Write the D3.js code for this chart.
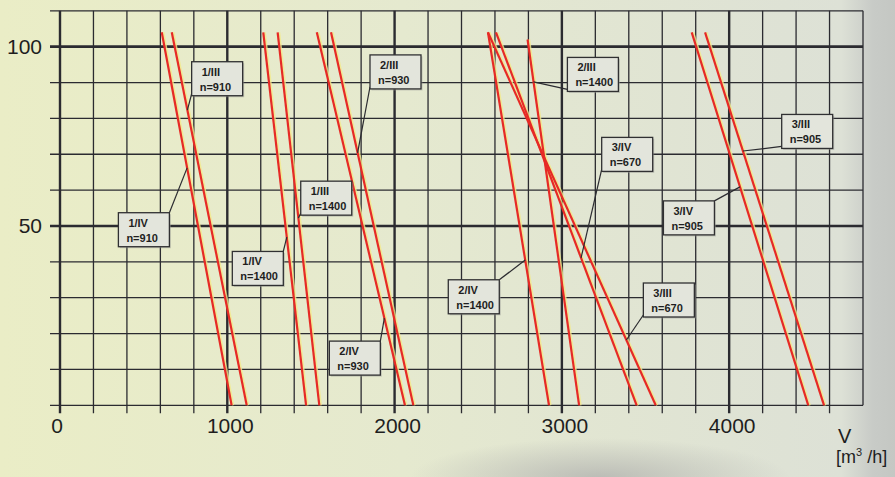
<!DOCTYPE html>
<html>
<head>
<meta charset="utf-8">
<script src="https://cdn.jsdelivr.net/npm/d3@7"></script>
<style>
  body { margin: 0; background: #e6e9cf; }
  svg text { font-family: "Liberation Sans", Arial, sans-serif; fill: #1e1e1e; }
</style>
</head>
<body>
<div id="chart"></div>
<script>
// chart size
var width = 895, height = 477;

// axis ticks
var xTicks = [0, 1000, 2000, 3000, 4000];
var yTicks = [50, 100];

// fan curves: [V at top, value at top, V at bottom, value at bottom]
var curveNames = ["1/IV n=910", "1/III n=910", "1/IV n=1400", "1/III n=1400",
                  "2/IV n=930", "2/III n=930", "2/IV n=1400", "2/III n=1400",
                  "3/IV n=670", "3/III n=670", "3/IV n=905", "3/III n=905"];
var curveTopV    = [608, 668, 1215, 1301, 1535, 1620, 2558, 2795, 2606, 2558, 3776, 3856];
var curveTopVal  = [104, 104, 104, 104, 104, 104, 104, 102, 104, 104, 104, 104];
var curveEndV    = [1026, 1116, 1471, 1550, 2062, 2112, 2923, 3103, 3447, 3561, 4473, 4567];
var curveEndVal  = [0, 0, 0, 0, 0, 0, 0, 0, 0, 0, 0, 0];

// labels: text lines and the value on the curve where the leader touches it
var labelTop    = ["1/III", "1/IV", "2/III", "1/III", "1/IV", "2/IV", "2/III", "3/IV", "3/III", "3/IV", "2/IV", "3/III"];
var labelBottom = ["n=910", "n=910", "n=930", "n=1400", "n=1400", "n=930", "n=1400", "n=670", "n=905", "n=905", "n=1400", "n=670"];
var labelHitVal = [82.3, 66.2, 70.4, 52.2, 46.9, 24.3, 90.2, 41.1, 70.9, 60.9, 40.5, 18.2];

// box placement (data units of the top-left corner) and leader corner
var boxV   = [787, 349, 1853, 1439, 1030, 1610, 3033, 3238, 4314, 3607, 2321, 3487];
var boxVal = [95.8, 53.7, 97.7, 62.5, 42.9, 17.9, 97.0, 74.7, 81.1, 57.0, 35.0, 34.1];
var boxCorner = ["bl", "tr", "bl", "bl", "tr", "tr", "bl", "bl", "bl", "tr", "tr", "bl"];

var svg = d3.select("#chart")
  .append("svg")
    .attr("width", width)
    .attr("height", height);

// scanned paper look
var defs = svg.append("defs");
var bg = defs.append("linearGradient").attr("id", "bg").attr("x1", 0).attr("x2", 1).attr("y1", 0).attr("y2", 0);
bg.append("stop").attr("offset", "0%").attr("stop-color", "#eaedc6");
bg.append("stop").attr("offset", "45%").attr("stop-color", "#e5e9cf");
bg.append("stop").attr("offset", "94%").attr("stop-color", "#dde1d6");
bg.append("stop").attr("offset", "97.5%").attr("stop-color", "#c8cbc7");
bg.append("stop").attr("offset", "100%").attr("stop-color", "#c4c7c3");
var shade = defs.append("radialGradient").attr("id", "shade");
shade.append("stop").attr("offset", "0%").attr("stop-color", "#b4b5b1").attr("stop-opacity", 0.85);
shade.append("stop").attr("offset", "100%").attr("stop-color", "#b4b5b1").attr("stop-opacity", 0);

svg.append("rect").attr("width", width).attr("height", height).attr("fill", "url(#bg)");
svg.append("ellipse")
  .attr("cx", 600).attr("cy", 478).attr("rx", 190).attr("ry", 40)
  .attr("fill", "url(#shade)");

var x = d3.scaleLinear().domain([0, 4800]).range([60, 863]);
var y = d3.scaleLinear().domain([0, 110]).range([405.3, 10.8]);

var grid = svg.append("g");

// horizontal grid lines (every 10), extending a little left of 0
grid.selectAll("line.h")
  .data(d3.range(0, 111, 10))
  .enter()
  .append("line")
    .attr("x1", x(0) - 10)
    .attr("x2", x(4800))
    .attr("y1", function(d) { return y(d); })
    .attr("y2", function(d) { return y(d); })
    .attr("stroke", "#2b2b30")
    .attr("stroke-width", function(d) { return d % 50 == 0 && d > 0 ? 2.6 : 1.3; });

// vertical grid lines (every 200), extending a little below 0
grid.selectAll("line.v")
  .data(d3.range(0, 4801, 200))
  .enter()
  .append("line")
    .attr("x1", function(d) { return x(d); })
    .attr("x2", function(d) { return x(d); })
    .attr("y1", y(110))
    .attr("y2", function(d) { return d == 4800 ? y(0) : y(0) + 8; })
    .attr("stroke", "#2b2b30")
    .attr("stroke-width", function(d) { return d % 1000 == 0 ? 2.4 : 1.3; });

// tick labels
svg.selectAll("text.ylab")
  .data(yTicks)
  .enter()
  .append("text")
    .attr("x", 42)
    .attr("y", function(d) { return y(d) + 7; })
    .attr("text-anchor", "end")
    .style("font-size", "21px")
    .text(function(d) { return d; });

svg.selectAll("text.xlab")
  .data(xTicks)
  .enter()
  .append("text")
    .attr("x", function(d) { return x(d) + (d == 0 ? -3 : 3); })
    .attr("y", 433)
    .attr("text-anchor", "middle")
    .style("font-size", "21px")
    .text(function(d) { return d; });

// axis unit
svg.append("text")
  .attr("x", 838)
  .attr("y", 443)
  .style("font-size", "20px")
  .text("V");
var unit = svg.append("text")
  .attr("x", 836)
  .attr("y", 463)
  .style("font-size", "18px");
unit.append("tspan").text("[m");
unit.append("tspan").attr("dy", -7).style("font-size", "11px").text("3");
unit.append("tspan").attr("dy", 7).text(" /h]");

// curves
var curves = curveNames.map(function(n, i) {
  return { name: n, v0: curveTopV[i], p0: curveTopVal[i], v1: curveEndV[i], p1: curveEndVal[i] };
});

svg.append("g").selectAll("line")
  .data(curves)
  .enter()
  .append("line")
    .attr("x1", function(d) { return x(d.v0) + 1.5; })
    .attr("y1", function(d) { return y(d.p0); })
    .attr("x2", function(d) { return x(d.v1) + 1.5; })
    .attr("y2", function(d) { return y(d.p1); })
    .attr("stroke", "#f3ea8a")
    .attr("stroke-width", 2.2)
    .attr("opacity", 0.8);

svg.append("g").selectAll("line")
  .data(curves)
  .enter()
  .append("line")
    .attr("x1", function(d) { return x(d.v0); })
    .attr("y1", function(d) { return y(d.p0); })
    .attr("x2", function(d) { return x(d.v1); })
    .attr("y2", function(d) { return y(d.p1); })
    .attr("stroke", "#e62a26")
    .attr("stroke-width", 2.2);

// labels with leaders
var boxW = 51, boxH = 34;
var labels = labelTop.map(function(t, i) {
  var name = t + " " + labelBottom[i];
  var c = curves.filter(function(d) { return d.name == name; })[0];
  var f = (c.p0 - labelHitVal[i]) / (c.p0 - c.p1);
  var bx = x(boxV[i]), by = y(boxVal[i]);
  return {
    top: t, bottom: labelBottom[i],
    bx: bx, by: by,
    hx: x(c.v0 + f * (c.v1 - c.v0)), hy: y(labelHitVal[i]),
    ax: boxCorner[i] == "tr" ? bx + boxW : bx,
    ay: boxCorner[i] == "tr" ? by : by + boxH - 2
  };
});

var lab = svg.append("g").selectAll("g")
  .data(labels)
  .enter()
  .append("g");

lab.append("line")
  .attr("x1", function(d) { return d.ax; })
  .attr("y1", function(d) { return d.ay; })
  .attr("x2", function(d) { return d.hx; })
  .attr("y2", function(d) { return d.hy; })
  .attr("stroke", "#2b2b30")
  .attr("stroke-width", 1.2);

lab.append("rect")
  .attr("x", function(d) { return d.bx + 1.5; })
  .attr("y", function(d) { return d.by + 1.5; })
  .attr("width", boxW)
  .attr("height", boxH)
  .attr("fill", "#9a9c96")
  .attr("opacity", 0.5);

lab.append("rect")
  .attr("x", function(d) { return d.bx; })
  .attr("y", function(d) { return d.by; })
  .attr("width", boxW)
  .attr("height", boxH)
  .attr("fill", "#e3e5dc")
  .attr("stroke", "#303032")
  .attr("stroke-width", 1.3);

lab.append("text")
  .attr("x", function(d) { return d.bx + 10; })
  .attr("y", function(d) { return d.by + 14; })
  .style("font-size", "11px")
  .style("font-weight", "bold")
  .text(function(d) { return d.top; });

lab.append("text")
  .attr("x", function(d) { return d.bx + 8; })
  .attr("y", function(d) { return d.by + 29; })
  .style("font-size", "11px")
  .style("font-weight", "bold")
  .text(function(d) { return d.bottom; });
</script>
</body>
</html>
